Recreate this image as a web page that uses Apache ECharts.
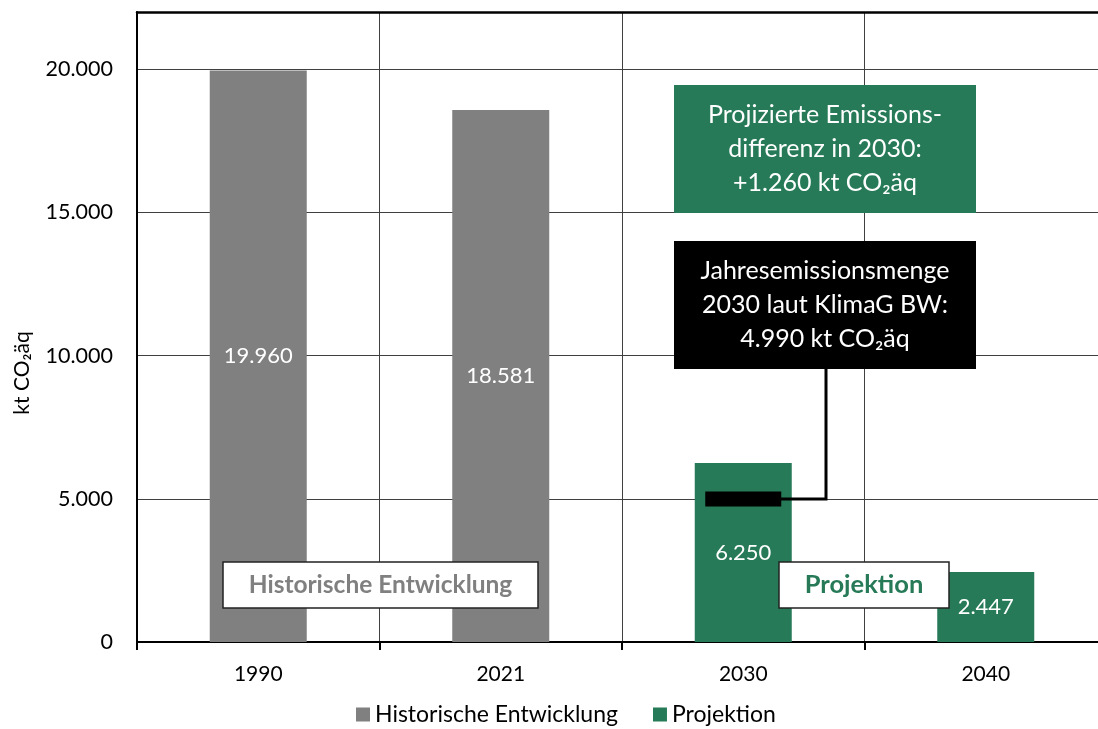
<!DOCTYPE html>
<html>
<head>
<meta charset="utf-8">
<script src="https://cdn.jsdelivr.net/npm/echarts@6/dist/echarts.min.js"></script>
<style>
  html, body { margin: 0; padding: 0; background: #fff; }
  #chart { width: 1098px; height: 729px; }
</style>
</head>
<body>
<div id="chart"></div>
<script>
// Kategorien und Werte (kt CO2äq)
const jahre = ['1990', '2021', '2030', '2040'];
const historisch = [19960, 18581, '-', '-'];
const projektion = ['-', '-', 6250, 2447];
const zielIndex = 2;      // 2030
const zielWert = 4990;    // Jahresemissionsmenge laut KlimaG BW
const yTicks = [0, 5000, 10000, 15000, 20000];

const GRUEN = '#267a57';
const GRAU = '#808080';
const FONT = 'Lato, "Open Sans", sans-serif';

// Tausenderpunkt
const fmt = v => String(v).replace(/\B(?=(\d{3})+(?!\d))/g, '.');

const chart = echarts.init(document.getElementById('chart'), null, {renderer: 'canvas'});

chart.setOption({
  animation: false,
  textStyle: {fontFamily: FONT},
  grid: {left: 137, top: 12, width: 970, bottom: 87, outerBoundsMode: 'none', containLabel: false},
  legend: {
    bottom: -2,
    left: 351,
    icon: 'rect',
    itemWidth: 14,
    itemHeight: 14,
    itemGap: 35,
    textStyle: {fontSize: 23, color: '#000', fontFamily: FONT},
    data: ['Historische Entwicklung', 'Projektion']
  },
  xAxis: [{
    type: 'category',
    data: jahre,
    axisLine: {lineStyle: {color: '#000', width: 2}},
    axisTick: {show: true, length: 8, interval: 0, lineStyle: {color: '#000', width: 2}},
    splitLine: {show: true, interval: 0, lineStyle: {color: '#404040', width: 1}},
    axisLabel: {fontSize: 21, color: '#000', margin: 22, fontFamily: FONT}
  }, {
    // nur als oberer Rahmen
    type: 'category',
    data: jahre,
    position: 'top',
    axisLine: {lineStyle: {color: '#000', width: 2.5}},
    axisTick: {show: false},
    axisLabel: {show: false}
  }],
  yAxis: {
    type: 'value',
    min: 0,
    max: 22000,
    interval: 5000,
    name: 'kt CO₂äq',
    nameLocation: 'middle',
    nameRotate: 90,
    nameGap: 104,
    nameTextStyle: {fontSize: 21, color: '#000', fontFamily: FONT, padding: [0, 92, 0, 0]},
    axisLine: {show: true, lineStyle: {color: '#000', width: 2}},
    axisTick: {show: false},
    splitLine: {lineStyle: {color: '#404040', width: 1}},
    axisLabel: {
      fontSize: 21.5,
      color: '#000',
      margin: 24,
      fontFamily: FONT,
      formatter: v => yTicks.includes(v) ? fmt(v) : ''
    }
  },
  series: [{
    name: 'Historische Entwicklung',
    type: 'bar',
    stack: 'x',
    barWidth: '40%',
    data: historisch,
    itemStyle: {color: GRAU},
    label: {show: true, position: 'inside', color: '#fff', fontSize: 22, fontFamily: FONT,
      formatter: p => fmt(p.value)}
  }, {
    name: 'Projektion',
    type: 'bar',
    stack: 'x',
    barWidth: '40%',
    data: projektion,
    itemStyle: {color: GRUEN},
    label: {show: true, position: 'inside', color: '#fff', fontSize: 22, fontFamily: FONT,
      formatter: p => fmt(p.value)}
  }]
});

// Anmerkungen
const [zx, zy] = chart.convertToPixel({seriesIndex: 1}, [zielIndex, zielWert]);
const boxX = 674, boxW = 302, boxMid = boxX + boxW / 2;

function box(x, y, w, h, fill, stroke, text, color, size, bold, lh) {
  return {
    type: 'group',
    children: [{
      type: 'rect',
      z: 100,
      shape: {x: x, y: y, width: w, height: h},
      style: {fill: fill, stroke: stroke, lineWidth: stroke ? 1.5 : 0}
    }, {
      type: 'text',
      z: 101,
      x: x + w / 2,
      y: y + h / 2,
      style: {
        text: text,
        fill: color,
        fontSize: size,
        fontWeight: bold ? 'bold' : 'normal',
        fontFamily: FONT,
        align: 'center',
        verticalAlign: 'middle',
        lineHeight: lh || size
      }
    }]
  };
}

chart.setOption({
  graphic: [
    // Ziel-Markierung im 2030-Balken
    {
      type: 'rect', z: 90,
      shape: {x: zx - 38, y: zy - 7.5, width: 76, height: 15},
      style: {fill: '#000'}
    },
    {
      type: 'polyline', z: 90,
      shape: {points: [[zx + 36, zy], [boxMid + 1, zy], [boxMid + 1, 369]]},
      style: {stroke: '#000', lineWidth: 3, fill: null}
    },
    box(boxX, 85, boxW, 128, GRUEN, null,
      'Projizierte Emissions-\ndifferenz in 2030:\n+1.260 kt CO₂äq', '#fff', 25, false, 34),
    box(boxX, 241, boxW, 128, '#000', null,
      'Jahresemissionsmenge\n2030 laut KlimaG BW:\n4.990 kt CO₂äq', '#fff', 25, false, 34),
    box(223, 562, 315, 46, '#fff', '#222', 'Historische Entwicklung', GRAU, 24.5, true),
    box(779, 562, 170, 46, '#fff', '#222', 'Projektion', GRUEN, 25.5, true)
  ]
});
</script>
</body>
</html>
